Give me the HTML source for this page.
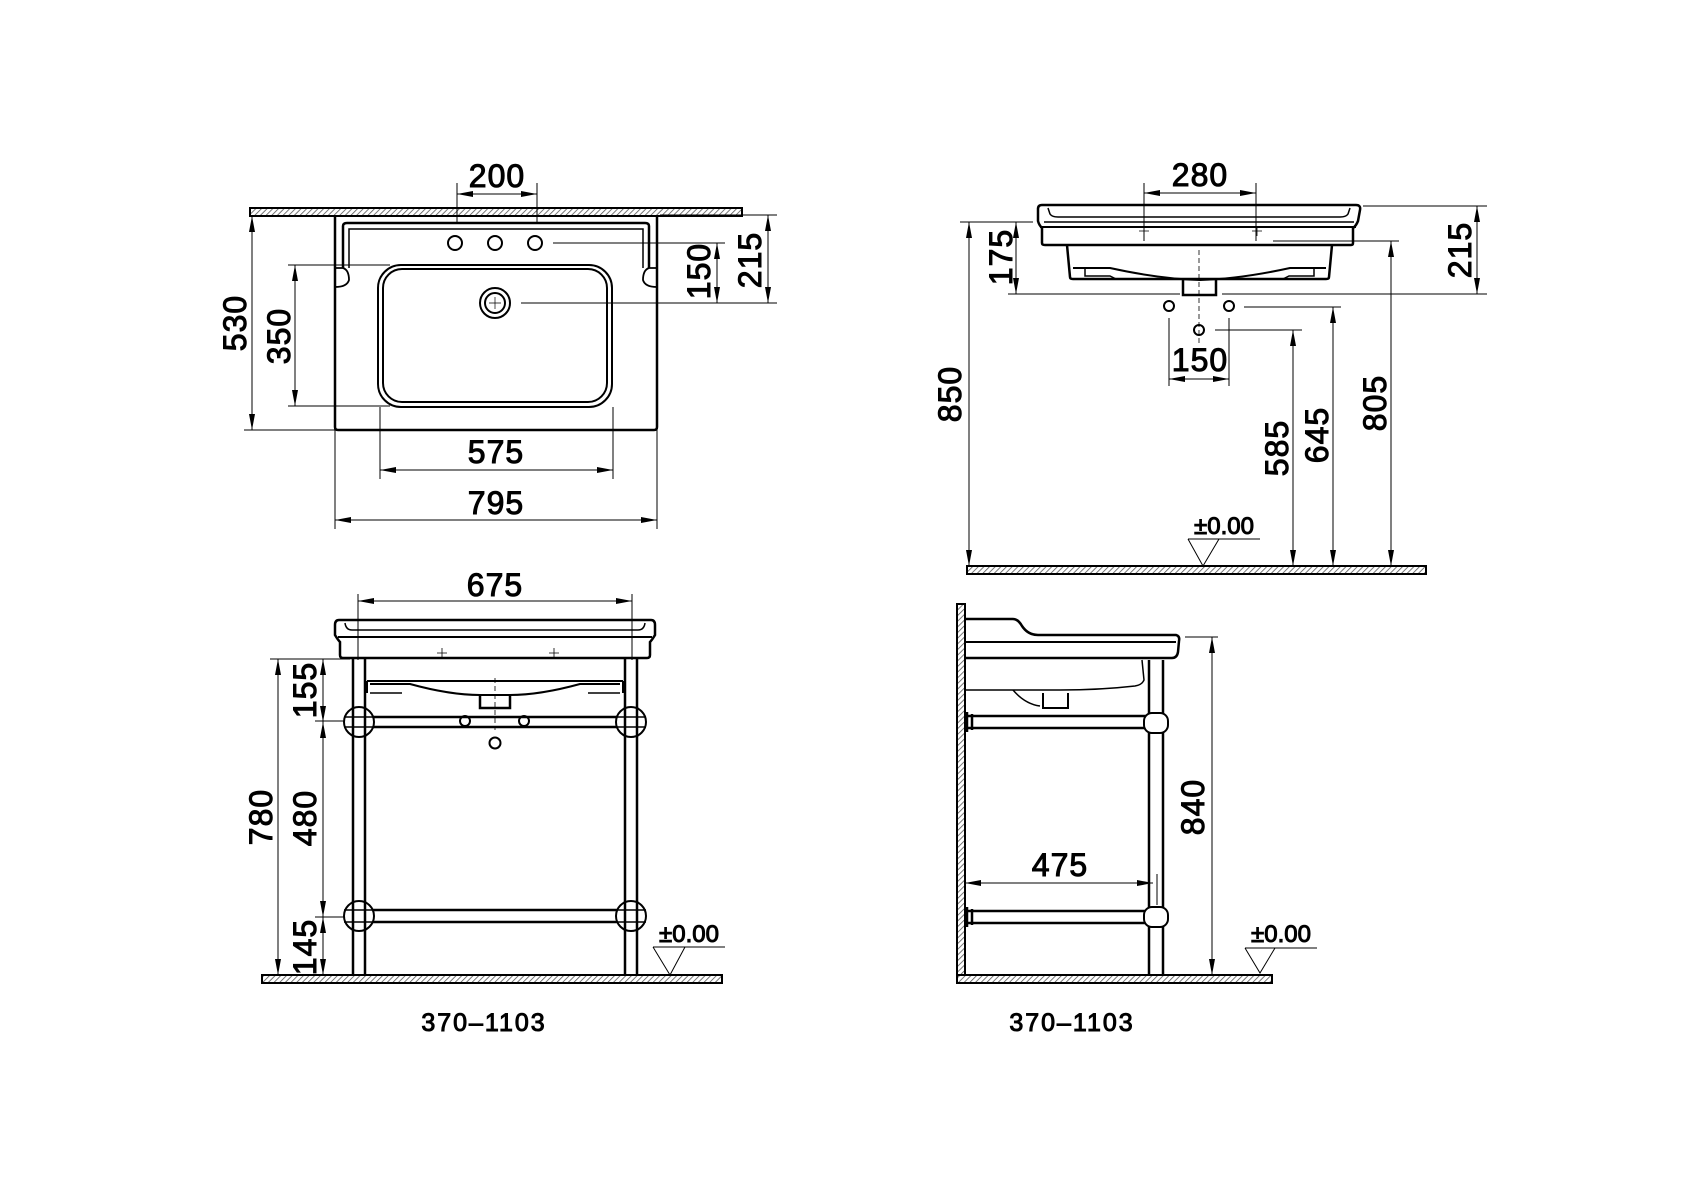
<!DOCTYPE html>
<html><head><meta charset="utf-8"><style>
html,body{margin:0;padding:0;background:#fff;}
svg{display:block;}
text{font-family:"Liberation Sans",sans-serif;fill:#000;font-weight:normal;}
.d{font-size:32px;letter-spacing:1px;}
.s{font-size:24px;}
.c{font-size:25px;letter-spacing:2px;}
</style></head><body>
<svg width="1696" height="1200" viewBox="0 0 1696 1200" xmlns="http://www.w3.org/2000/svg">
<defs>
<pattern id="h" width="4" height="4" patternUnits="userSpaceOnUse" patternTransform="rotate(45)">
<rect width="4" height="4" fill="#fff"/><line x1="0" y1="0" x2="0" y2="4" stroke="#555" stroke-width="1.6"/></pattern>
<marker id="a" viewBox="0 0 16 6" refX="16" refY="3" markerWidth="16" markerHeight="6" markerUnits="userSpaceOnUse" orient="auto-start-reverse">
<path d="M0,0 L16,3 L0,6 z" fill="#000"/></marker>
</defs>
<g fill="none" stroke="#000" stroke-width="1">

<!-- ============ TOP VIEW ============ -->
<rect x="250" y="208" width="492" height="8" fill="url(#h)" stroke-width="2"/>
<path d="M335,216 V427 Q335,430 338,430 H654 Q657,430 657,427 V216" stroke-width="2.5"/>
<path d="M343,268 V226 Q343,223 347,223 H645 Q649,223 649,226 V268" stroke-width="2.5"/>
<path d="M349,268 V229 H643 V268" stroke-width="1.5"/>
<path d="M335,268 H343 Q349,270 349,280 Q347,287 335,287 M657,268 H649 Q643,270 643,280 Q645,287 657,287" stroke-width="1.8"/>
<rect x="378" y="265" width="234" height="142" rx="23" stroke-width="2"/>
<rect x="383" y="269" width="224" height="133" rx="19" stroke-width="2"/>
<circle cx="455" cy="243" r="7" stroke-width="2"/>
<circle cx="495" cy="243" r="7" stroke-width="2"/>
<circle cx="535" cy="243" r="7" stroke-width="2"/>
<circle cx="495" cy="303" r="15" stroke-width="2"/>
<circle cx="495" cy="303" r="10" stroke-width="2"/>
<path d="M489,303 H501 M495,297 V309" stroke-width="0.7"/>
<!-- dims -->
<path d="M457,183 V224 M537,183 V224"/>
<path d="M457,194 H537" marker-start="url(#a)" marker-end="url(#a)"/>
<text class="d" x="497" y="187" text-anchor="middle">200</text>
<path d="M660,215 H777 M553,243 H725 M521,303 H777"/>
<path d="M717,243 V303" marker-start="url(#a)" marker-end="url(#a)"/>
<path d="M768,215 V303" marker-start="url(#a)" marker-end="url(#a)"/>
<text class="d" transform="translate(710,271) rotate(-90)" text-anchor="middle">150</text>
<text class="d" transform="translate(761,260) rotate(-90)" text-anchor="middle">215</text>
<path d="M244,430 H335"/>
<path d="M252,216 V430" marker-start="url(#a)" marker-end="url(#a)"/>
<text class="d" transform="translate(246,323) rotate(-90)" text-anchor="middle">530</text>
<path d="M288,265 H390 M288,406 H390"/>
<path d="M295,265 V406" marker-start="url(#a)" marker-end="url(#a)"/>
<text class="d" transform="translate(290,336) rotate(-90)" text-anchor="middle">350</text>
<path d="M380,407 V479 M613,407 V479"/>
<path d="M380,470 H613" marker-start="url(#a)" marker-end="url(#a)"/>
<text class="d" x="496" y="463" text-anchor="middle">575</text>
<path d="M335,430 V529 M657,430 V529"/>
<path d="M335,520 H657" marker-start="url(#a)" marker-end="url(#a)"/>
<text class="d" x="496" y="514" text-anchor="middle">795</text>

<!-- ============ SIDE VIEW (top right) ============ -->
<path d="M1042,205 H1356 Q1361,205 1360,210 L1358,221 Q1356,226 1353,228 V243 Q1353,245 1351,245 H1045 Q1042,245 1042,243 V228 Q1039,225 1038,221 V209 Q1038,205 1042,205 Z" stroke-width="2.5"/>
<path d="M1048,208 L1050,214 Q1052,217 1058,217 H1340 Q1346,217 1348,214 L1350,208" stroke-width="1.5"/>
<path d="M1044,222 H1354" stroke-width="1.5"/>
<path d="M1040,227 H1356" stroke-width="2"/>
<path d="M1067,245 L1070,277 Q1070,279 1073,279 H1326 Q1329,279 1329,277 L1332,245" stroke-width="2.5"/>
<path d="M1073,268 H1110 Q1160,279 1200,280 Q1240,279 1290,268 H1326" stroke-width="2"/>
<path d="M1073,268 Q1200,262 1326,268" stroke-width="0"/>
<path d="M1074,267 H1100 Q1160,276 1200,278" stroke-width="0"/>
<path d="M1074,268 V268" />
<path d="M1073,268 L1075,268"/>
<path d="M1085,269 V276 H1110 L1116,279" stroke-width="1.5"/>
<path d="M1314,269 V276 H1289 L1283,279" stroke-width="1.5"/>
<path d="M1183,280 V295 H1216 V280" stroke-width="2.5"/>
<path d="M1199,250 V345" stroke-dasharray="5,3" stroke-width="0.8"/>
<path d="M1139,231 h10 M1144,226 v10 M1252,231 h10 M1257,226 v10" stroke-width="0.8"/>
<circle cx="1169" cy="306" r="5" stroke-width="2"/>
<circle cx="1229" cy="306" r="5" stroke-width="2"/>
<circle cx="1199" cy="330" r="5" stroke-width="2"/>
<path d="M1144,183 V241 M1256,183 V241"/>
<path d="M1144,193 H1256" marker-start="url(#a)" marker-end="url(#a)"/>
<text class="d" x="1200" y="186" text-anchor="middle">280</text>
<path d="M1363,206 H1487 M1008,294 H1180 M1222,294 H1487"/>
<path d="M1477,206 V294" marker-start="url(#a)" marker-end="url(#a)"/>
<text class="d" transform="translate(1471,250) rotate(-90)" text-anchor="middle">215</text>
<path d="M960,222 H1033"/>
<path d="M1016,222 V294" marker-start="url(#a)" marker-end="url(#a)"/>
<text class="d" transform="translate(1012,257) rotate(-90)" text-anchor="middle">175</text>
<path d="M969,222 V566" marker-start="url(#a)" marker-end="url(#a)"/>
<text class="d" transform="translate(961,394) rotate(-90)" text-anchor="middle">850</text>
<path d="M1169,318 V386 M1229,318 V386"/>
<path d="M1169,379 H1229" marker-start="url(#a)" marker-end="url(#a)"/>
<text class="d" x="1200" y="371" text-anchor="middle">150</text>
<path d="M1273,241 H1399 M1244,307 H1341 M1215,330 H1302"/>
<path d="M1293,330 V566" marker-start="url(#a)" marker-end="url(#a)"/>
<path d="M1333,307 V566" marker-start="url(#a)" marker-end="url(#a)"/>
<path d="M1391,241 V566" marker-start="url(#a)" marker-end="url(#a)"/>
<text class="d" transform="translate(1288,448) rotate(-90)" text-anchor="middle">585</text>
<text class="d" transform="translate(1328,435) rotate(-90)" text-anchor="middle">645</text>
<text class="d" transform="translate(1386,403) rotate(-90)" text-anchor="middle">805</text>
<rect x="967" y="566" width="459" height="8" fill="url(#h)" stroke-width="2"/>
<path d="M1188,539 H1260 M1188,539 L1203,566 L1219,539"/>
<text class="s" x="1224" y="534" text-anchor="middle">±0.00</text>

<!-- ============ FRONT VIEW (bottom left) ============ -->
<path d="M339,620 H651 Q655,620 655,625 V635 Q652,640 650,642 V655 Q650,658 647,658 H343 Q340,658 340,655 V642 Q338,640 335,635 V625 Q335,620 339,620 Z" stroke-width="2.5"/>
<path d="M345,623 Q346,630 352,630 H638 Q644,630 645,623" stroke-width="1.5"/>
<path d="M338,637 H652" stroke-width="2"/>
<path d="M437,653 h10 M442,648 v10 M549,653 h10 M554,648 v10" stroke-width="0.8"/>
<path d="M367,681 V693 M623,681 V693 M367,681 H623" stroke-width="2"/>
<path d="M370,684 H410 Q450,695 480,695 H510 Q540,695 580,684 H620" stroke-width="2"/>
<path d="M370,693 H402 M588,693 H620" stroke-width="1.5"/>
<path d="M480,694 V708 H510 V694" stroke-width="2.5"/>
<path d="M495,678 V730" stroke-dasharray="5,3" stroke-width="0.8"/>
<path d="M353,658 V975 M365,658 V975 M625,658 V975 M637,658 V975" stroke-width="2.5"/>
<path d="M365,717 H625 M365,727 H625 M365,910 H625 M365,922 H625" stroke-width="2.5"/>
<circle cx="359" cy="722" r="15" stroke-width="2" fill="#fff"/>
<circle cx="631" cy="722" r="15" stroke-width="2" fill="#fff"/>
<circle cx="359" cy="916" r="15" stroke-width="2" fill="#fff"/>
<circle cx="631" cy="916" r="15" stroke-width="2" fill="#fff"/>
<path d="M353,707 V737 M365,707 V737 M625,707 V737 M637,707 V737 M353,901 V931 M365,901 V931 M625,901 V931 M637,901 V931" stroke-width="2.5"/>
<path d="M344,717 H374 M344,727 H374 M616,717 H646 M616,727 H646 M344,910 H374 M344,922 H374 M616,910 H646 M616,922 H646" stroke-width="1.5"/>
<circle cx="465" cy="721" r="5" stroke-width="2"/>
<circle cx="524" cy="721" r="5" stroke-width="2"/>
<circle cx="495" cy="743" r="5.5" stroke-width="2"/>
<path d="M358,594 V660 M632,594 V660"/>
<path d="M358,601 H632" marker-start="url(#a)" marker-end="url(#a)"/>
<text class="d" x="495" y="596" text-anchor="middle">675</text>
<path d="M270,659 H350 M315,721 H345 M315,917 H345"/>
<path d="M278,659 V975" marker-start="url(#a)" marker-end="url(#a)"/>
<text class="d" transform="translate(272,817) rotate(-90)" text-anchor="middle">780</text>
<path d="M323,659 V722" marker-start="url(#a)" marker-end="url(#a)"/>
<path d="M323,722 V917" marker-start="url(#a)" marker-end="url(#a)"/>
<path d="M323,917 V975" marker-start="url(#a)" marker-end="url(#a)"/>
<text class="d" transform="translate(316,690) rotate(-90)" text-anchor="middle">155</text>
<text class="d" transform="translate(316,818) rotate(-90)" text-anchor="middle">480</text>
<text class="d" transform="translate(316,947) rotate(-90)" text-anchor="middle">145</text>
<rect x="262" y="975" width="460" height="8" fill="url(#h)" stroke-width="2"/>
<path d="M653,947 H725 M653,947 L670,975 L685,947"/>
<text class="s" x="689" y="942" text-anchor="middle">±0.00</text>
<text class="c" x="484" y="1031" text-anchor="middle">370–1103</text>

<!-- ============ SIDE VIEW (bottom right) ============ -->
<rect x="957" y="604" width="8" height="371" fill="url(#h)" stroke-width="2"/>
<rect x="957" y="975" width="315" height="8" fill="url(#h)" stroke-width="2"/>
<path d="M965,619 H1013 Q1018,619 1022,626 Q1028,635 1038,635 H1176 Q1180,636 1179,641 L1178,652 Q1177,658 1172,658 H965" stroke-width="2.5"/>
<path d="M965,642 H1176" stroke-width="2"/>
<path d="M1142,660 L1144,680 Q1142,685 1135,686 Q1100,690 1060,690 H965" stroke-width="1.5"/>
<path d="M1013,690 Q1025,704 1040,706" stroke-width="1.5"/>
<path d="M1043,693 V708 H1068 V693" stroke-width="2"/>
<path d="M1149,660 V975 M1163,660 V975" stroke-width="2.5"/>
<path d="M967,716 H1146 M967,728 H1146 M967,911 H1146 M967,923 H1146" stroke-width="2.5"/>
<path d="M967,712 V732 M972,714 V730 M967,907 V927 M972,909 V925" stroke-width="2.5"/>
<rect x="1144" y="713" width="24" height="20" rx="8" stroke-width="2" fill="#fff"/>
<rect x="1144" y="907" width="24" height="20" rx="8" stroke-width="2" fill="#fff"/>
<path d="M1185,637 H1218"/>
<path d="M1212,637 V975" marker-start="url(#a)" marker-end="url(#a)"/>
<text class="d" transform="translate(1204,807) rotate(-90)" text-anchor="middle">840</text>
<path d="M1157,874 V905"/>
<path d="M965,883 H1153" marker-start="url(#a)" marker-end="url(#a)"/>
<text class="d" x="1060" y="876" text-anchor="middle">475</text>
<path d="M1245,948 H1317 M1245,948 L1260,973 L1275,948"/>
<text class="s" x="1281" y="942" text-anchor="middle">±0.00</text>
<text class="c" x="1072" y="1031" text-anchor="middle">370–1103</text>
</g>
</svg>
</body></html>
